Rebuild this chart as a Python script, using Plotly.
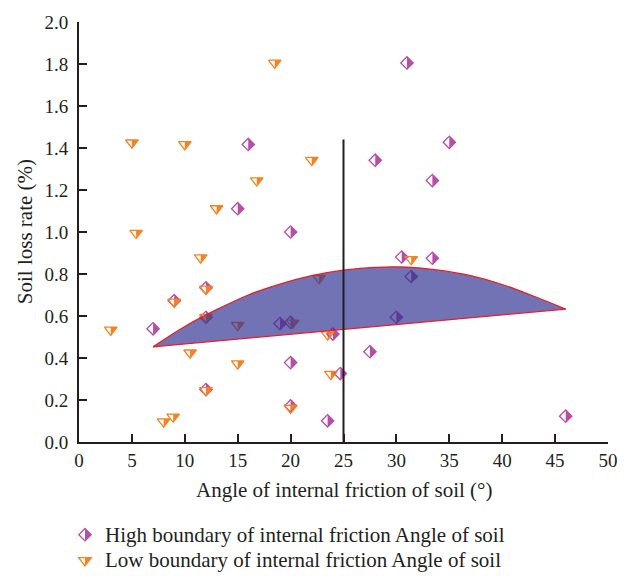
import plotly.graph_objects as go

# ---------------- data ----------------
high_x = [31.0, 16.0, 35.0, 28.0, 33.4, 15.0, 20.0, 12.0, 9.0, 7.0, 19.0, 20.0, 24.0,
          12.0, 20.0, 24.7, 23.5, 20.0, 12.0, 30.5, 33.4, 31.4, 30.0, 27.5, 46.0]
high_y = [1.805, 1.417, 1.427, 1.342, 1.245, 1.111, 1.000, 0.734, 0.673, 0.539, 0.564, 0.570, 0.514,
          0.594, 0.378, 0.326, 0.101, 0.172, 0.250, 0.881, 0.875, 0.788, 0.594, 0.430, 0.123]

low_x = [18.5, 5.0, 10.0, 22.0, 16.8, 13.0, 5.4, 11.5, 12.0, 9.0, 3.0, 12.0,
         15.0, 20.2, 22.7, 10.5, 15.0, 23.5, 23.8, 12.0, 20.0, 8.0, 8.9, 31.4]
low_y = [1.805, 1.425, 1.417, 1.342, 1.245, 1.112, 0.995, 0.878, 0.729, 0.667, 0.534, 0.594,
         0.556, 0.567, 0.780, 0.425, 0.373, 0.511, 0.323, 0.246, 0.162, 0.097, 0.120, 0.870]

band_lower_x = [7.0, 46.0]
band_lower_y = [0.453, 0.633]
band_upper_x = [7.0, 10.0, 13.0, 16.0, 19.0, 22.0, 25.0, 28.0, 31.0, 34.0, 37.0, 40.0, 43.0, 46.0]
band_upper_y = [0.453, 0.550, 0.630, 0.700, 0.752, 0.792, 0.818, 0.832, 0.833, 0.818, 0.792, 0.750, 0.694, 0.633]

vline_x = [25, 25]
vline_y = [0, 1.44]

x_ticks = [0, 5, 10, 15, 20, 25, 30, 35, 40, 45, 50]
y_ticks = [0.0, 0.2, 0.4, 0.6, 0.8, 1.0, 1.2, 1.4, 1.6, 1.8, 2.0]

names = ["High boundary of internal friction Angle of soil",
         "Low boundary of internal friction Angle of soil"]

# ---------------- styles ----------------
PURPLE = "#B54EA6"
ORANGE = "#F58220"
INK = "#231F20"
RED = "#ED1C24"
FONT = "Liberation Serif"
TEXT_SIZE = 21
TICK_SIZE = 19

D_SIZE = 9.5   # diamond marker size
T_SIZE = 11.0  # triangle marker size
rd = 1.3 * D_SIZE / 2
tr = T_SIZE / 2
trt = tr * 2 / 3 ** 0.5


def diamond_half():
    return f"M0,{rd:.2f} L{rd:.2f},0 L0,{-rd:.2f} Z"


def diamond_full():
    return f"M0,{rd:.2f} L{rd:.2f},0 L0,{-rd:.2f} L{-rd:.2f},0 Z"


def tri_half():
    return f"M0,{tr/2:.2f} L{trt:.2f},{tr/2:.2f} L0,{-tr:.2f} Z"


def tri_full():
    return f"M{-trt:.2f},{tr/2:.2f} L{trt:.2f},{tr/2:.2f} L0,{-tr:.2f} Z"


W, H = 630, 576
ML, MR, MT, MB = 79, 20, 16, 134
PW, PH = W - ML - MR, H - MT - MB


def px2paper(px, py):
    return (px - ML) / PW, (H - MB - py) / PH


fig = go.Figure()

fig.add_trace(go.Scatter(x=high_x, y=high_y, mode="markers", name=names[0], showlegend=False,
                         marker=dict(symbol="diamond-open", size=D_SIZE, color=PURPLE,
                                     line=dict(width=1.3, color=PURPLE))))
fig.add_trace(go.Scatter(x=low_x, y=low_y, mode="markers", name=names[1], showlegend=False,
                         marker=dict(symbol="triangle-down-open", size=T_SIZE, color=ORANGE,
                                     line=dict(width=1.3, color=ORANGE))))

fig.add_trace(go.Scatter(x=band_lower_x, y=band_lower_y, mode="lines", showlegend=False,
                         line=dict(color=RED, width=1.3)))
fig.add_trace(go.Scatter(x=band_upper_x, y=band_upper_y, mode="lines", showlegend=False,
                         line=dict(color=RED, width=1.3, shape="spline"),
                         fill="tonexty", fillcolor="rgba(46,49,146,0.68)"))

fig.add_trace(go.Scatter(x=vline_x, y=vline_y, mode="lines", showlegend=False,
                         line=dict(color=INK, width=2)))

shapes = []
for x, y in zip(high_x, high_y):
    shapes.append(dict(type="path", xref="x", yref="y", xsizemode="pixel", ysizemode="pixel",
                       xanchor=x, yanchor=y, path=diamond_half(), fillcolor=PURPLE,
                       line=dict(width=0), layer="below"))
for x, y in zip(low_x, low_y):
    shapes.append(dict(type="path", xref="x", yref="y", xsizemode="pixel", ysizemode="pixel",
                       xanchor=x, yanchor=y, path=tri_half(), fillcolor=ORANGE,
                       line=dict(width=0), layer="below"))

# manual legend
leg_rows = [(536, diamond_full, diamond_half, PURPLE, names[0]),
            (562, tri_full, tri_half, ORANGE, names[1])]
annotations = []
for py, full, half, col, label in leg_rows:
    ax, ay = px2paper(85, py)
    shapes.append(dict(type="path", xref="paper", yref="paper", xsizemode="pixel", ysizemode="pixel",
                       xanchor=ax, yanchor=ay, path=full(), fillcolor="rgba(0,0,0,0)",
                       line=dict(width=1.3, color=col)))
    shapes.append(dict(type="path", xref="paper", yref="paper", xsizemode="pixel", ysizemode="pixel",
                       xanchor=ax, yanchor=ay, path=half(), fillcolor=col, line=dict(width=0)))
    tx, ty = px2paper(103, py)
    annotations.append(dict(x=tx, y=ty, xref="paper", yref="paper", text=label, showarrow=False,
                            xanchor="left", yanchor="middle",
                            font=dict(family=FONT, size=TEXT_SIZE, color=INK)))

# axis titles
tx, ty = px2paper(345, 491)
annotations.append(dict(x=tx, y=ty, xref="paper", yref="paper", text="Angle of internal friction of soil (°)",
                        showarrow=False, xanchor="center", yanchor="middle",
                        font=dict(family=FONT, size=TEXT_SIZE, color=INK)))
tx, ty = px2paper(25, 229)
annotations.append(dict(x=tx, y=ty, xref="paper", yref="paper", text="Soil loss rate (%)",
                        showarrow=False, xanchor="center", yanchor="middle", textangle=-90,
                        font=dict(family=FONT, size=TEXT_SIZE, color=INK)))

fig.update_layout(
    width=W, height=H,
    margin=dict(l=ML, r=MR, t=MT, b=MB),
    paper_bgcolor="white", plot_bgcolor="white",
    shapes=shapes, annotations=annotations,
    showlegend=False,
)
fig.update_xaxes(range=[0, 50], tickvals=x_ticks, ticktext=[str(v) for v in x_ticks],
                 showgrid=False, zeroline=False, showline=True, linecolor=INK, linewidth=2,
                 ticks="inside", ticklen=8, tickwidth=2, tickcolor=INK,
                 tickfont=dict(family=FONT, size=TICK_SIZE, color=INK))
fig.update_yaxes(range=[0, 2.0], tickvals=y_ticks, ticktext=[f"{v:.1f}" for v in y_ticks],
                 showgrid=False, zeroline=False, showline=True, linecolor=INK, linewidth=2,
                 ticks="inside", ticklen=8, tickwidth=2, tickcolor=INK, ticklabelstandoff=5,
                 tickfont=dict(family=FONT, size=TICK_SIZE, color=INK))

fig.write_html("out.html")
